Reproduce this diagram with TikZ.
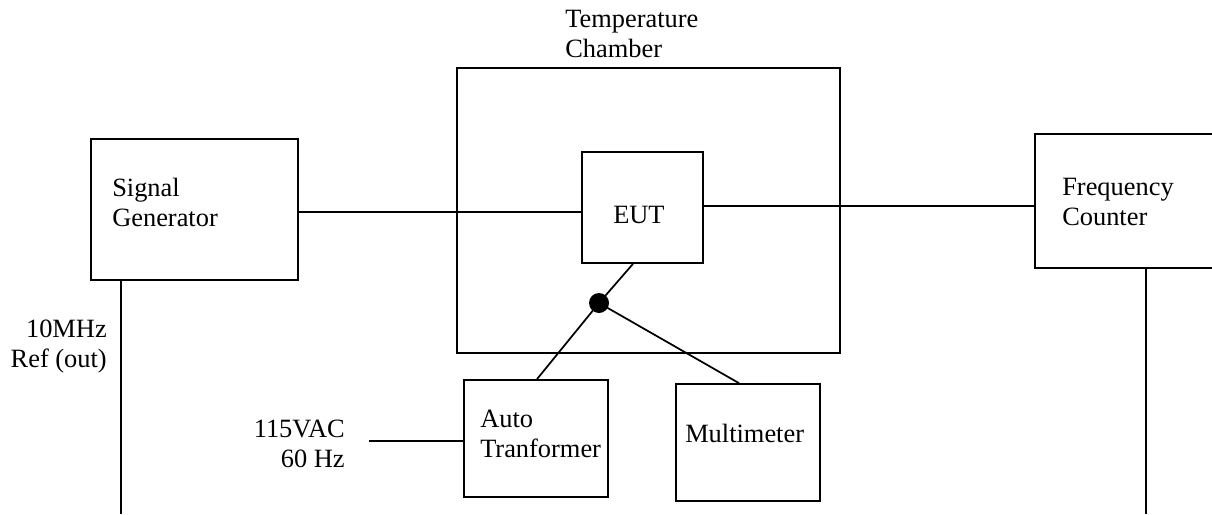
\documentclass[tikz,border=0pt]{standalone}
\usepackage{fontspec}
\setmainfont{Liberation Serif}
\usetikzlibrary{fit}
\begin{document}
\begin{tikzpicture}[x=0.75pt,y=-0.75pt,
  box/.style={draw,line width=1.3pt,inner sep=0pt,rectangle},
  wire/.style={line width=1.3pt},
  txt/.style={inner sep=0pt,font=\fontsize{19.8pt}{22.5pt}\selectfont},
  dotnode/.style={circle,fill=black,inner sep=0pt,minimum size=15pt}]
\useasboundingbox (0,0) rectangle (1212,514);
\clip (0,0) rectangle (1212,514);
% boxes
\node[box,fit={(91,139)(298,280)}] (sg) {};
\node[box,fit={(457,68)(840,353)}] (chamber) {};
\node[box,fit={(582,152)(703,263)}] (eut) {};
\node[box,fit={(1035,134)(1230,268)}] (fc) {};
\node[box,fit={(464,380)(608,497)}] (at) {};
\node[box,fit={(676,384)(820,501)}] (mm) {};
\node[dotnode] (jn) at (599,303) {};
% texts (base anchor = last line baseline)
\node[txt,anchor=base west,align=left] (tsg) at (112,226) {Signal\\Generator};
\node[txt,anchor=base west,align=left] (tch) at (565,57) {Temperature\\Chamber};
\node[txt,anchor=base west] (teut) at (613,223) {EUT};
\node[txt,anchor=base west,align=left] (tfc) at (1062,225) {Frequency\\Counter};
\node[txt,anchor=base west,align=left] (tat) at (480,457) {Auto\\Tranformer};
\node[txt,anchor=base west] (tmm) at (685,442) {Multimeter};
\node[txt,anchor=base east,align=right] (tref) at (107,367) {10MHz\\Ref (out)};
\node[txt,anchor=base east,align=right] (tac) at (345,467) {115VAC\\60 Hz};
% free ends
\coordinate (refend) at (121,514);
\coordinate (fcend) at (1146,514);
\coordinate (acend) at (369,441);
% connectors
\draw[wire] (sg.east |- 0,212) -- (eut.west |- 0,212);
\draw[wire] (eut.east |- 0,206) -- (fc.west |- 0,206);
\draw[wire] (sg.south -| refend) -- (refend);
\draw[wire] (fc.south -| fcend) -- (fcend);
\draw[wire] (acend) -- (at.west |- acend);
\draw[wire] (eut.south -| 633,0) -- (jn.center);
\draw[wire] (jn.center) -- (at.north -| 537,0);
\draw[wire] (jn.center) -- (mm.north -| 739,0);
\end{tikzpicture}
\end{document}
